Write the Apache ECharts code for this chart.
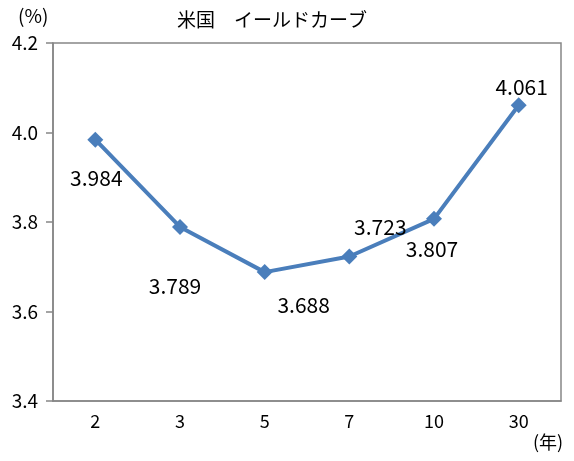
<!DOCTYPE html>
<html>
<head>
<meta charset="utf-8">
<script src="https://cdn.jsdelivr.net/npm/echarts@6/dist/echarts.min.js"></script>
<style>
html, body { margin: 0; padding: 0; background: #fff; }
#main { width: 574px; height: 461px; }
</style>
</head>
<body>
<div id="main"></div>
<script>
// 年限と利回り
var maturities = ['2', '3', '5', '7', '10', '30'];
var yields = [3.984, 3.789, 3.688, 3.723, 3.807, 4.061];
var yTicks = [3.4, 3.6, 3.8, 4.0, 4.2];

var FONT = '"Noto Sans CJK JP", sans-serif';

// ラベルの置き場所（点からのずれ）
var labelOffsets = [[1, 38], [-5, 59], [39, 33], [31, -29], [-2, 30], [3, -18]];

function getSeriesData(){
    var data = [];
    for (var i = 0; i < yields.length; i++) {
        data.push({
            value: yields[i],
            label: { offset: labelOffsets[i] }
        });
    }
    return data;
}

var myChart = echarts.init(document.getElementById('main'));
var option = {
    animation: false,
    backgroundColor: '#fff',
    title: {
        text: '米国　イールドカーブ',
        left: 172,
        top: 5,
        textStyle: { fontFamily: FONT, fontSize: 19, fontWeight: 'normal', color: '#000' }
    },
    grid: {
        left: 53, right: 13, top: 43, bottom: 60,
        show: true,
        borderColor: '#868686',
        borderWidth: 1.5
    },
    xAxis: {
        type: 'category',
        data: maturities,
        boundaryGap: true,
        axisLine: { lineStyle: { color: '#868686', width: 1.5 } },
        axisTick: { show: false },
        axisLabel: { color: '#000', fontFamily: FONT, fontSize: 18, margin: 11 }
    },
    yAxis: {
        type: 'value',
        min: yTicks[0],
        max: yTicks[yTicks.length - 1],
        interval: 0.2,
        axisLine: { show: true, lineStyle: { color: '#868686', width: 1.5 } },
        axisTick: { show: true, inside: false, length: 7, lineStyle: { color: '#868686', width: 1.5 } },
        splitLine: { show: false },
        axisLabel: {
            color: '#000', fontFamily: FONT, fontSize: 19, margin: 15,
            formatter: function (v) { return v.toFixed(1); }
        }
    },
    graphic: [
        { type: 'text', left: 18, top: 6, style: { text: '(%)', font: '19px ' + FONT, fill: '#000' } },
        { type: 'text', left: 533, top: 433, style: { text: '(年)', font: '18px ' + FONT, fill: '#000' } }
    ],
    series: [{
        name: '利回り',
        type: 'line',
        data: getSeriesData(),
        symbol: 'diamond',
        symbolSize: 16,
        lineStyle: { color: '#4A7EBB', width: 4 },
        itemStyle: { color: '#4A7EBB' },
        label: {
            show: true,
            position: 'inside',
            color: '#000',
            fontFamily: FONT,
            fontSize: 21,
            formatter: function (p) { return p.value.toFixed(3); }
        }
    }]
};
myChart.setOption(option);
</script>
</body>
</html>
